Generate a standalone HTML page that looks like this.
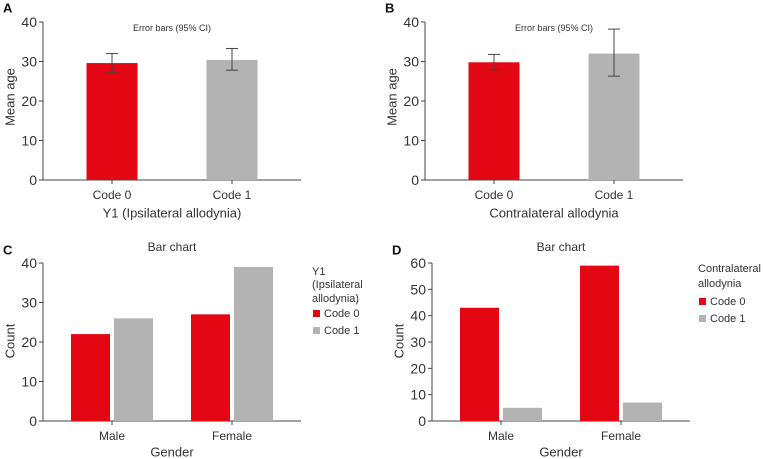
<!DOCTYPE html>
<html><head><meta charset="utf-8"><style>
body{margin:0;background:#fff}
svg{display:block;font-family:"Liberation Sans",sans-serif}
</style></head><body>
<svg id="c" width="763" height="459" viewBox="0 0 763 459"></svg>
<script>
const RED="#e30613", GREY="#b3b3b3", TXT="#333";
// Panel A data
const aCats=["Code 0","Code 1"];
const aMeans=[29.6,30.4];
const aLow=[27.3,27.8];
const aHigh=[32.0,33.3];
// Panel B data
const bCats=["Code 0","Code 1"];
const bMeans=[29.8,32.0];
const bLow=[27.9,26.3];
const bHigh=[31.8,38.2];
// Panel C data
const cCats=["Male","Female"];
const cCode0=[22,27];
const cCode1=[26,39];
const cTicks=[0,10,20,30,40];
// Panel D data
const dCats=["Male","Female"];
const dCode0=[43,59];
const dCode1=[5,7];
const dTicks=[0,10,20,30,40,50,60];
const abTicks=[0,10,20,30,40];

const svg=document.getElementById('c');
const NS="http://www.w3.org/2000/svg";
function el(tag,attrs,name,parent){const e=document.createElementNS(NS,tag);for(const k in attrs)e.setAttribute(k,attrs[k]);


(parent||svg).appendChild(e);return e;}
function txt(s,x,y,size,anchor,name,extra){const t=el('text',Object.assign({x:x,y:y,'font-size':size,fill:TXT,'text-anchor':anchor||'middle','dominant-baseline':'central'},extra||{}),name);t.textContent=s;return t;}

function axes(p){
  const y=v=>p.yBot-(v/p.max)*(p.yBot-p.yTop);
  el('line',{x1:p.x0,y1:p.yTop,x2:p.x0,y2:p.yBot,stroke:'#444','stroke-width':1},p.id+'-y-axis');
  el('line',{x1:p.x0,y1:p.yBot,x2:p.x1,y2:p.yBot,stroke:'#444','stroke-width':1},p.id+'-x-axis');
  p.ticks.forEach(v=>{
    el('line',{x1:p.x0-4,y1:y(v),x2:p.x0,y2:y(v),stroke:'#444'},p.id+'-y-tick');
    txt(String(v),p.x0-6,y(v),14,'end',p.id+'-y-tick-label');
  });
  return y;
}

function errPanel(id,ox,cats,means,low,high,xtitle,letter){
  const p={id:id,x0:43+ox,x1:301+ox,yTop:22,yBot:180,max:40,ticks:abTicks};
  const y=axes(p);
  const cx=[112+ox,232+ox], bw=51;
  cats.forEach((c,i)=>{
    el('rect',{x:cx[i]-bw/2,y:y(means[i]),width:bw,height:y(0)-y(means[i]),fill:i?GREY:RED},id+'-bar-'+c.replace(' ','').toLowerCase());
    el('line',{x1:cx[i],y1:y(low[i]),x2:cx[i],y2:y(high[i]),stroke:'#444'},id+'-error-bar');
    el('line',{x1:cx[i]-6,y1:y(low[i]),x2:cx[i]+6,y2:y(low[i]),stroke:'#444'},id+'-error-cap-low');
    el('line',{x1:cx[i]-6,y1:y(high[i]),x2:cx[i]+6,y2:y(high[i]),stroke:'#444'},id+'-error-cap-high');
    el('line',{x1:cx[i],y1:180,x2:cx[i],y2:184,stroke:'#444'},id+'-x-tick');
    txt(c,cx[i],195,12,'middle',id+'-x-tick-label');
  });
  txt("Error bars (95% CI)",172+ox,28,9,'middle',id+'-error-note');
  txt(xtitle,172+ox,213,13,'middle',id+'-x-axis-title');
  txt("Mean age",10+ox,97,13,'middle',id+'-y-axis-title',{transform:`rotate(-90 ${10+ox} 97)`});
  txt(letter,3+ox,8,13,'start',id+'-panel-label',{'font-weight':'bold',fill:'#111'});
}
errPanel('panel-a',0,aCats,aMeans,aLow,aHigh,"Y1 (Ipsilateral allodynia)","A");
errPanel('panel-b',382,bCats,bMeans,bLow,bHigh,"Contralateral allodynia","B");

function countPanel(id,ox,cats,s0,s1,ticks,max,legendLines,letter){
  const p={id:id,x0:43+ox,x1:301+ox,yTop:263,yBot:421,max:max,ticks:ticks};
  const y=axes(p);
  const cx=[112+ox,232+ox], bw=39;
  cats.forEach((c,i)=>{
    el('rect',{x:cx[i]-bw-2,y:y(s0[i]),width:bw,height:y(0)-y(s0[i]),fill:RED},id+'-bar-'+c.toLowerCase()+'-code0');
    el('rect',{x:cx[i]+2,y:y(s1[i]),width:bw,height:y(0)-y(s1[i]),fill:GREY},id+'-bar-'+c.toLowerCase()+'-code1');
    el('line',{x1:cx[i],y1:421,x2:cx[i],y2:425,stroke:'#444'},id+'-x-tick');
    txt(c,cx[i],436,12,'middle',id+'-x-tick-label');
  });
  txt("Bar chart",172+ox,247,12,'middle',id+'-title');
  txt("Gender",172+ox,452,13,'middle',id+'-x-axis-title');
  txt("Count",10+ox,341,13,'middle',id+'-y-axis-title',{transform:`rotate(-90 ${10+ox} 341)`});
  txt(letter,3+ox,250,13,'start',id+'-panel-label',{'font-weight':'bold',fill:'#111'});
  const lx=legendLines.x;
  legendLines.lines.forEach((l,i)=>{
    const ex=(l==="Contralateral")?{textLength:63,lengthAdjust:'spacingAndGlyphs'}:{};
    txt(l,lx,legendLines.ys[i],11,'start',id+'-legend-title',ex);
  });
  el('rect',{x:lx+1,y:legendLines.c0-4,width:7,height:7,fill:RED},id+'-legend-swatch-code0');
  txt("Code 0",lx+12,legendLines.c0,11,'start',id+'-legend-entry-code0');
  el('rect',{x:lx+1,y:legendLines.c1-4,width:7,height:7,fill:GREY},id+'-legend-swatch-code1');
  txt("Code 1",lx+12,legendLines.c1,11,'start',id+'-legend-entry-code1');
}
countPanel('panel-c',0,cCats,cCode0,cCode1,cTicks,40,{x:312,lines:["Y1","(Ipsilateral","allodynia)"],ys:[272,285,299],c0:314,c1:331},"C");
countPanel('panel-d',389,dCats,dCode0,dCode1,dTicks,60,{x:698,lines:["Contralateral","allodynia"],ys:[269,284],c0:302,c1:319},"D");
</script>
</body></html>
